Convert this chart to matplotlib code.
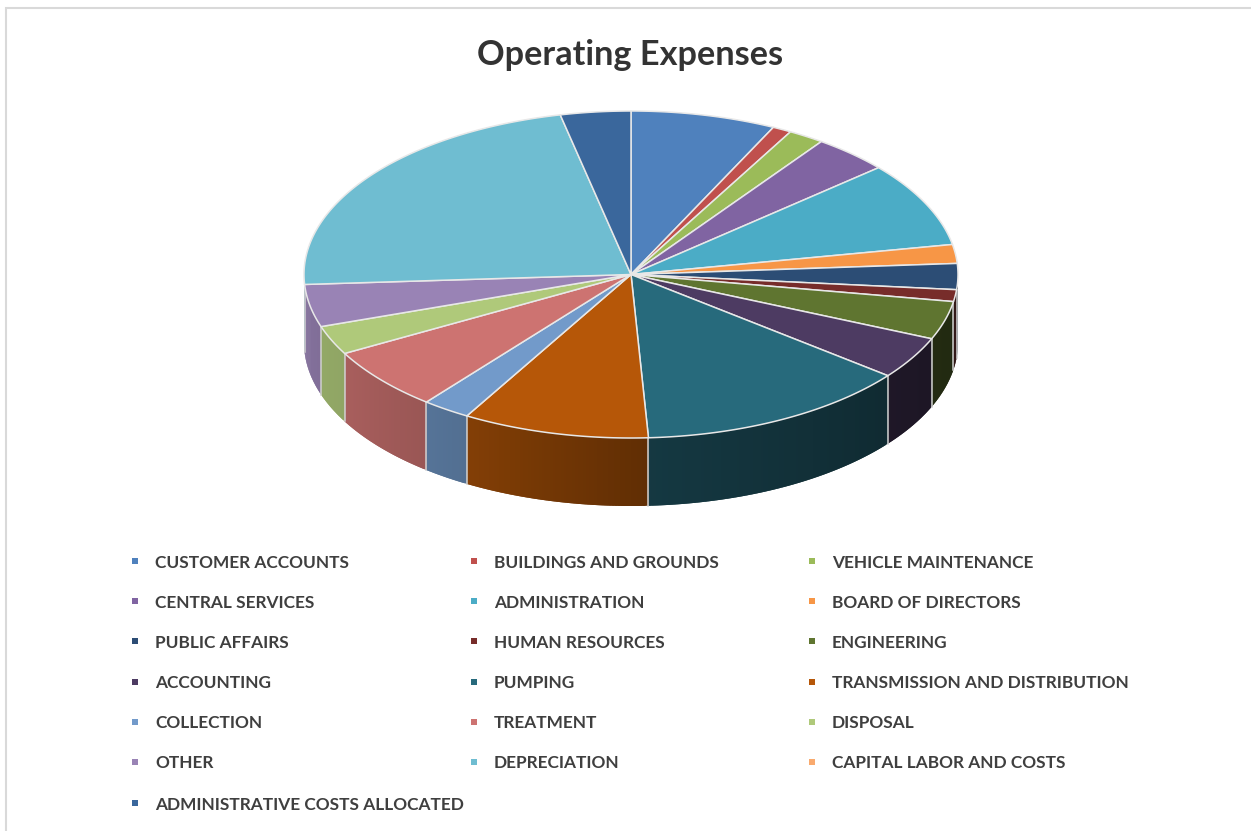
"""Operating expenses shown as a tilted 3D pie with a three column legend."""

import numpy as np
import matplotlib

matplotlib.use("Agg")  # Non-GUI backend
import matplotlib.pyplot as plt
from matplotlib.patches import Rectangle

categories = [
    "CUSTOMER ACCOUNTS", "BUILDINGS AND GROUNDS", "VEHICLE MAINTENANCE",
    "CENTRAL SERVICES", "ADMINISTRATION", "BOARD OF DIRECTORS",
    "PUBLIC AFFAIRS", "HUMAN RESOURCES", "ENGINEERING",
    "ACCOUNTING", "PUMPING", "TRANSMISSION AND DISTRIBUTION",
    "COLLECTION", "TREATMENT", "DISPOSAL",
    "OTHER", "DEPRECIATION", "CAPITAL LABOR AND COSTS",
    "ADMINISTRATIVE COSTS ALLOCATED",
]
# share of total expenses, percent
shares = [7.17, 0.94, 1.78, 3.78, 8.39, 1.86, 2.56, 1.17, 3.78,
          4.19, 13.53, 9.22, 2.39, 6.22, 2.86, 4.19, 22.5, 0.0, 3.47]
colors = [
    "#4F81BD", "#C0504D", "#9BBB59", "#8064A2", "#4BACC6", "#F79646",
    "#2C4D75", "#772C2A", "#5F7530", "#4D3B62", "#276A7C", "#B65708",
    "#729ACA", "#CD7371", "#AFC97A", "#9983B5", "#6FBDD1", "#F9AA6E",
    "#3A679C",
]

# how much the side wall darkens going round the front of the pie
shade_angles = [90, 128, 177, 210, 240, 270]
shade_levels = [0.33, 0.40, 0.53, 0.72, 0.82, 0.87]

CX, CY = 631, 274.5
RX, RY = 327, 163.5
DEPTH = 68
EDGE = "#e8e8e8"
TEXT = "#3f3f3f"


def rim(theta):
    """Outer edge of the top face, theta in degrees clockwise from 12 o'clock."""
    t = np.radians(theta)
    return CX + RX * np.sin(t), CY - RY * np.cos(t)


def darken(color, level):
    return tuple(c * level for c in matplotlib.colors.to_rgb(color))


plt.rcParams["font.family"] = ["Lato", "DejaVu Sans"]

fig = plt.figure(figsize=(12.51, 8.31), dpi=100)
ax = fig.add_axes([0, 0, 1, 1])
ax.set_xlim(0, 1251)
ax.set_ylim(831, 0)
ax.axis("off")

# chart frame, open at the right and bottom
ax.plot([6, 6, 1251], [831, 8, 8], color="#d9d9d9", lw=1.5, solid_joinstyle="miter")

ends = np.cumsum(shares) / np.sum(shares) * 360
starts = np.concatenate([[0], ends[:-1]])

# side wall, thin overlapping strips so the shading runs along it without seams
for start, end, color in zip(starts, ends, colors):
    lo, hi = max(start, 90), min(end, 270)
    if hi <= lo:
        continue
    edges = np.linspace(lo, hi, int((hi - lo) * 2) + 2)
    for a, b in zip(edges[:-1], edges[1:]):
        arc = np.array([a, min(b + 0.5, hi)])
        x, y = rim(arc)
        shade = darken(color, np.interp((a + b) / 2, shade_angles, shade_levels))
        ax.fill(np.r_[x, x[::-1]], np.r_[y, y[::-1] + DEPTH], fc=shade, ec="none", zorder=2)

# light seams between the wall segments
for end in ends:
    if 90 < end < 270:
        x, y = rim(end)
        ax.plot([x, x], [y, y + DEPTH], color="#d0d0d0", lw=1.1, zorder=3)

# top face
for start, end, color in zip(starts, ends, colors):
    if end <= start:
        continue
    theta = np.linspace(start, end, max(int(end - start) * 2, 4))
    x, y = rim(theta)
    ax.fill(np.r_[CX, x], np.r_[CY, y], fc=color, ec=EDGE, lw=1.1,
            joinstyle="round", zorder=4)

ax.text(630, 55, "Operating Expenses", ha="center", va="center",
        fontsize=24.7, fontweight="bold", color="#333333")

# legend, filled row by row
col_x = [135, 474, 812]
row_y = [561, 601, 641, 682, 722, 762, 803]
for i, (name, color) in enumerate(zip(categories, colors)):
    row, col = divmod(i, 3)
    ax.add_patch(Rectangle((col_x[col] - 3, row_y[row] - 3), 6, 6, fc=color, ec="none"))
    ax.text(col_x[col] + 20, row_y[row] + 1.5, name, ha="left", va="center",
            fontsize=12.43, fontweight="bold", color=TEXT)

fig.savefig("out.png", dpi=100)
